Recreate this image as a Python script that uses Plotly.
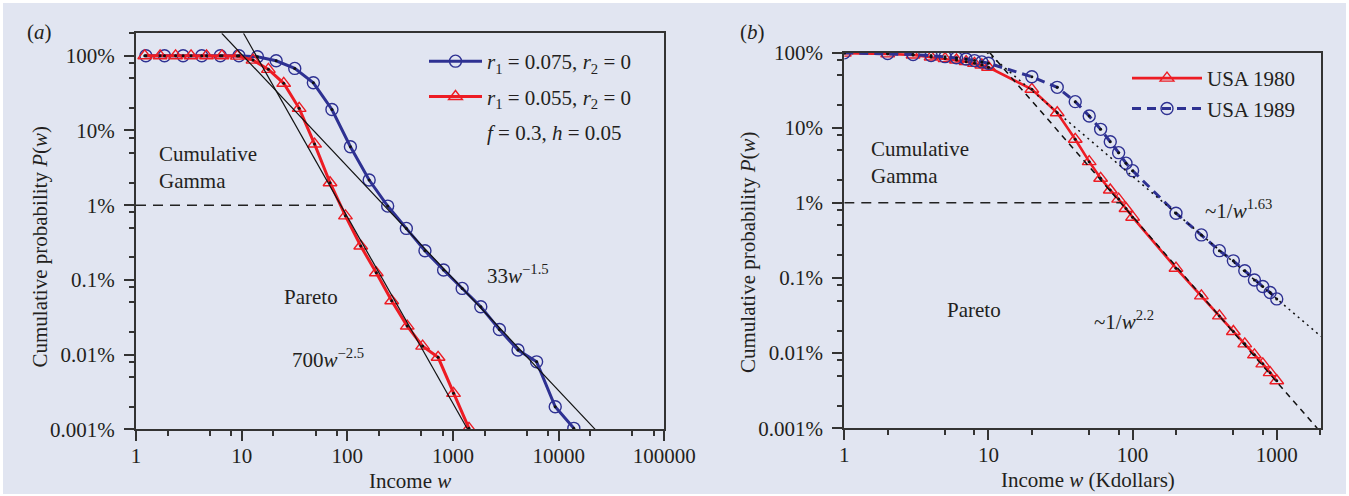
import plotly.graph_objects as go
import numpy as np

# ---------------- data ----------------
# panel (a): model simulations
a_blue_x = [1.24, 1.86, 2.79, 4.19, 6.28, 9.42, 14.1, 21.2, 31.8, 47.7, 71.5, 107, 161, 241,
            362, 543, 815, 1222, 1833, 2750, 4125, 6187, 9281, 13921]
a_blue_y = [100, 100, 100, 100, 100, 100, 97, 85.8, 67.8, 43.5, 19.1, 6.06, 2.17, 0.973,
            0.489, 0.245, 0.1355, 0.0769, 0.0437, 0.0217, 0.0115, 0.0080, 0.0020, 0.00103]
a_red_x = [1.21, 1.69, 2.37, 3.32, 4.65, 6.51, 9.11, 12.8, 17.9, 25.0, 35.0, 49.0, 68.6, 96.0,
           134, 188, 263, 369, 516, 723, 1012, 1417]
a_red_y = [100, 100, 100, 100, 100, 100, 99, 87.6, 65.8, 42.8, 19.8, 6.58, 2.0, 0.72,
           0.284, 0.1245, 0.0525, 0.0241, 0.0130, 0.0092, 0.00303, 0.00103]
a_fit_coef = [3300, 70000]      # in %, i.e. 33 w^-1.5 and 700 w^-2.5
a_fit_exp = [1.5, 2.5]

# panel (b): USA data
b_x = [1, 2, 3, 4, 5, 6, 7, 8, 9, 10, 20, 30, 40, 50, 60, 70, 80, 90, 100,
       200, 300, 400, 500, 600, 700, 800, 900, 1000]
b_1980 = [98, 96, 92.6, 87, 83, 79.5, 75.5, 71.8, 68.2, 63.6, 32.4, 15.8, 7.0, 3.53, 2.12,
          1.48, 1.12, 0.84, 0.644, 0.135, 0.0578, 0.0313, 0.0194, 0.0133, 0.0095,
          0.0072, 0.0055, 0.00429]
b_1989 = [99, 97, 94, 91, 88, 85, 82, 78, 75, 72, 47.6, 34.4, 22.2, 14.3, 9.5, 6.5, 4.65,
          3.37, 2.68, 0.728, 0.374, 0.231, 0.169, 0.125, 0.094, 0.0769, 0.064, 0.0527]
b_fit_coef = [16500, 4100]      # in %, ~1/w^2.2 and ~1/w^1.63
b_fit_exp = [2.2, 1.63]

y_tickvals = [0.001, 0.01, 0.1, 1, 10, 100]
y_ticktext = ["0.001%", "0.01%", "0.1%", "1%", "10%", "100%"]
a_x_tickvals = [1, 10, 100, 1000, 10000, 100000]
b_x_tickvals = [1, 10, 100, 1000]

# ---------------- style ----------------
W, H = 1349, 496
FONT = "Liberation Serif"
TXT = "#231f20"
BLUE = "#2e3192"
RED = "#ed1c24"
PLOTBG = "#c1d1e4"
PAPER = "#e1e5f1"

def fx(p):
    return p / W

def fy(p):
    return 1 - p / H

A_XR = [0, 5]
A_YR = [-3, np.log10(200)]
B_XR = [0, 3.307]
B_YR = [-3, 2]

fig = go.Figure()

# ---- panel (a) ----
fig.add_trace(go.Scatter(x=a_blue_x, y=a_blue_y, mode="lines+markers",
                         name="<i>r</i><sub>1</sub> = 0.075, <i>r</i><sub>2</sub> = 0",
                         legendgroup="a1",
                         line=dict(color=BLUE, width=3),
                         marker=dict(symbol="circle-open", size=12, color=BLUE, line=dict(width=1.4)),
                         xaxis="x", yaxis="y", legend="legend"))
fig.add_trace(go.Scatter(x=a_red_x, y=a_red_y, mode="lines+markers",
                         name="<i>r</i><sub>1</sub> = 0.055, <i>r</i><sub>2</sub> = 0",
                         legendgroup="a2",
                         line=dict(color=RED, width=3),
                         marker=dict(symbol="triangle-up-open", size=12, color=RED, line=dict(width=1.4)),
                         xaxis="x", yaxis="y", legend="legend"))
fig.add_trace(go.Scatter(x=[None], y=[None], mode="lines",
                         name="<i>f</i> = 0.3, <i>h</i> = 0.05", legendgroup="a3",
                         line=dict(color="rgba(0,0,0,0)", width=0),
                         xaxis="x", yaxis="y", legend="legend"))
for xs, ys in [(a_blue_x, a_blue_y), (a_red_x, a_red_y)]:
    fig.add_trace(go.Scatter(x=xs, y=ys, mode="markers", showlegend=False,
                             marker=dict(symbol="circle", size=3, color="#111"),
                             xaxis="x", yaxis="y", hoverinfo="skip"))

# fit lines (a): from top of axis to bottom of axis
for c, e in zip(a_fit_coef, a_fit_exp):
    w0 = (c / 10 ** A_YR[1]) ** (1 / e)
    w1 = (c / 10 ** A_YR[0]) ** (1 / e)
    ws = np.array([w0, w1])
    fig.add_trace(go.Scatter(x=ws, y=c * ws ** (-e), mode="lines", showlegend=False,
                             line=dict(color="#111", width=1.2), xaxis="x", yaxis="y", hoverinfo="skip"))
w_cross_a = (a_fit_coef[1] / 1.0) ** (1 / a_fit_exp[1])
fig.add_trace(go.Scatter(x=[1, w_cross_a], y=[1, 1], mode="lines", showlegend=False,
                         line=dict(color="#222", width=1.5, dash="10px,7px"),
                         xaxis="x", yaxis="y", hoverinfo="skip"))

# ---- panel (b) ----
fig.add_trace(go.Scatter(x=b_x, y=b_1980, mode="lines+markers", name="USA 1980",
                         line=dict(color=RED, width=2.6),
                         marker=dict(symbol="triangle-up-open", size=12, color=RED, line=dict(width=1.4)),
                         xaxis="x2", yaxis="y2", legend="legend2"))
fig.add_trace(go.Scatter(x=b_x, y=b_1989, mode="lines+markers", name="USA 1989",
                         line=dict(color=BLUE, width=3, dash="9px,6px"),
                         marker=dict(symbol="circle-open", size=12, color=BLUE, line=dict(width=1.4)),
                         xaxis="x2", yaxis="y2", legend="legend2"))
for ys in [b_1980, b_1989]:
    fig.add_trace(go.Scatter(x=b_x, y=ys, mode="markers", showlegend=False,
                             marker=dict(symbol="circle", size=3, color="#111"),
                             xaxis="x2", yaxis="y2", hoverinfo="skip"))

xmax_b = 10 ** B_XR[1]
for c, e, d in zip(b_fit_coef, b_fit_exp, ["6px,5px", "2px,4px"]):
    w0 = (c / 10 ** B_YR[1]) ** (1 / e)
    w1 = min((c / 10 ** B_YR[0]) ** (1 / e), xmax_b)
    ws = np.array([w0, w1])
    fig.add_trace(go.Scatter(x=ws, y=c * ws ** (-e), mode="lines", showlegend=False,
                             line=dict(color="#111", width=1.5, dash=d),
                             xaxis="x2", yaxis="y2", hoverinfo="skip"))
w_cross_b = (b_fit_coef[0] / 1.0) ** (1 / b_fit_exp[0])
fig.add_trace(go.Scatter(x=[1, w_cross_b], y=[1, 1], mode="lines", showlegend=False,
                         line=dict(color="#222", width=1.5, dash="10px,7px"),
                         xaxis="x2", yaxis="y2", hoverinfo="skip"))

# ---------------- axes ----------------
def minor_vals(max_exp, lo=-3):
    return [m * 10 ** k for k in range(lo, max_exp + 1) for m in (2, 5, 8)]

axis_common = dict(type="log", showgrid=False, zeroline=False, showline=True,
                   linecolor="#333", linewidth=2, mirror=True, ticks="outside",
                   ticklen=10, tickwidth=1.5, tickcolor="#333", automargin=False,
                   tickfont=dict(family=FONT, size=21, color=TXT))

fig.update_layout(
    xaxis=dict(axis_common, domain=[fx(136), fx(664.3)], range=A_XR, anchor="y",
               tickvals=a_x_tickvals, ticktext=[str(v) for v in a_x_tickvals],
               ticklabelstandoff=-4,
               minor=dict(tickvals=minor_vals(4, 0), ticks="outside", ticklen=5,
                          tickwidth=1.5, tickcolor="#333")),
    yaxis=dict(axis_common, domain=[fy(429.3), fy(33.3)], range=A_YR, anchor="x",
               tickvals=y_tickvals, ticktext=y_ticktext, ticklabelstandoff=5,
               minor=dict(tickvals=minor_vals(2), ticks="outside", ticklen=5,
                          tickwidth=1.5, tickcolor="#333")),
    xaxis2=dict(axis_common, domain=[fx(844.3), fx(1321)], range=B_XR, anchor="y2",
                tickvals=b_x_tickvals, ticktext=[str(v) for v in b_x_tickvals],
                ticklabelstandoff=-4,
                minor=dict(tickvals=minor_vals(3, 0), ticks="outside", ticklen=5,
                           tickwidth=1.5, tickcolor="#333")),
    yaxis2=dict(axis_common, domain=[fy(428.3), fy(52.5)], range=B_YR, anchor="x2",
                tickvals=y_tickvals, ticktext=y_ticktext, ticklabelstandoff=5,
                minor=dict(tickvals=minor_vals(1), ticks="outside", ticklen=5,
                           tickwidth=1.5, tickcolor="#333")),
)

fig.update_layout(
    width=W, height=H, margin=dict(l=0, r=0, t=0, b=0, autoexpand=False),
    paper_bgcolor="white", plot_bgcolor=PLOTBG,
    font=dict(family=FONT, size=20, color=TXT),
    legend=dict(x=fx(424), y=fy(41), xanchor="left", yanchor="top",
                bgcolor=PAPER, borderwidth=0, itemwidth=53,
                traceorder="grouped", tracegroupgap=5,
                font=dict(family=FONT, size=21, color=TXT)),
    legend2=dict(x=fx(1127), y=fy(58), xanchor="left", yanchor="top",
                 bgcolor=PAPER, borderwidth=0, itemwidth=70,
                 font=dict(family=FONT, size=21, color=TXT)),
    shapes=[dict(type="rect", xref="paper", yref="paper", x0=fx(3), x1=fx(1346),
                 y0=fy(494), y1=fy(3), fillcolor=PAPER, line=dict(width=0), layer="below")],
)

ann = []
def A(text, x, y, **kw):
    d = dict(text=text, x=fx(x), y=fy(y), xref="paper", yref="paper", showarrow=False,
             xanchor="center", yanchor="middle",
             font=dict(family=FONT, size=21, color=TXT))
    d.update(kw)
    ann.append(d)

A("(<i>a</i>)", 39.5, 32)
A("(<i>b</i>)", 752, 32)
A("Cumulative probability <i>P</i>(<i>w</i>)", 39, 247.5, textangle=-90)
A("Cumulative probability <i>P</i>(<i>w</i>)", 748, 253, textangle=-90)
A("Income <i>w</i>", 410, 481)
A("Income <i>w</i> (Kdollars)", 1088, 480)
A("Cumulative<br>Gamma", 157, 168, xanchor="left", align="left")
A("Pareto", 311, 297)
A("700<i>w</i><sup>\u22122.5</sup>", 328, 358)
A("33<i>w</i><sup>\u22121.5</sup>", 518, 274)
A("Cumulative<br>Gamma", 869, 162, xanchor="left", align="left")
A("Pareto", 974, 310)
A("~1/<i>w</i><sup>2.2</sup>", 1124, 320)
A("~1/<i>w</i><sup>1.63</sup>", 1238, 210)
fig.update_layout(annotations=ann)

fig.write_html("out.html")
